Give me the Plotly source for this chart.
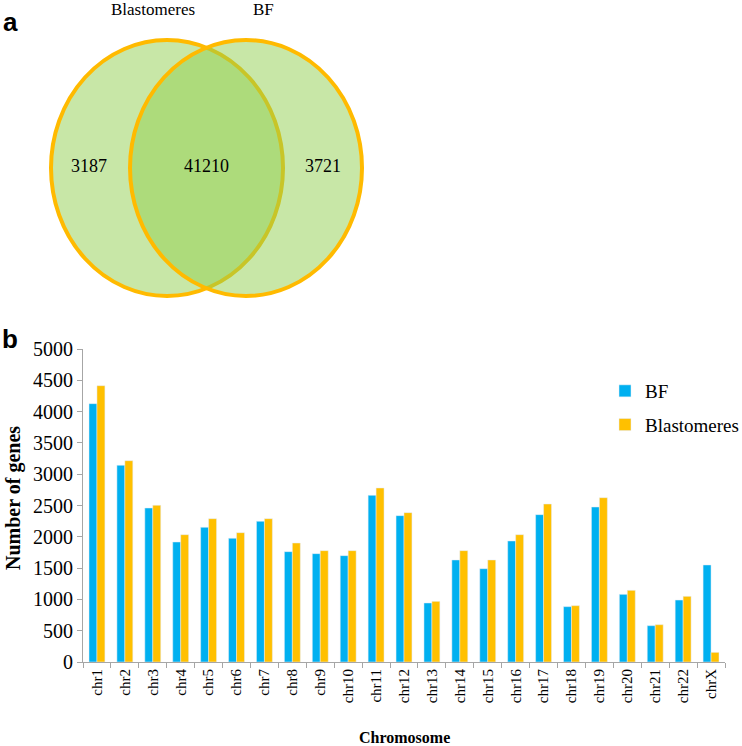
import plotly.graph_objects as go

# ---- data ----
chromosomes = ["chr1", "chr2", "chr3", "chr4", "chr5", "chr6", "chr7", "chr8", "chr9", "chr10",
               "chr11", "chr12", "chr13", "chr14", "chr15", "chr16", "chr17", "chr18", "chr19",
               "chr20", "chr21", "chr22", "chrX"]
bf_genes = [4127, 3142, 2460, 1917, 2151, 1976, 2247, 1763, 1731, 1699,
            2662, 2338, 943, 1630, 1491, 1933, 2354, 884, 2476,
            1081, 580, 990, 1550]
blastomere_genes = [4414, 3216, 2503, 2034, 2290, 2066, 2290, 1901, 1779, 1779,
                    2780, 2386, 969, 1779, 1630, 2034, 2524, 900, 2625,
                    1145, 596, 1049, 154]
venn_sets = ["Blastomeres", "BF"]
venn_counts = [3187, 41210, 3721]   # Blastomeres only, shared, BF only
y_ticks = [0, 500, 1000, 1500, 2000, 2500, 3000, 3500, 4000, 4500, 5000]

W, H = 742, 746
BLUE = "#00B0F0"
GOLD = "#FFC000"
SERIF = "Liberation Serif"

fig = go.Figure()
fig.add_trace(go.Bar(x=chromosomes, y=bf_genes, name="BF", marker_color=BLUE,
                     legendgroup="a", xaxis="x", yaxis="y"))
fig.add_trace(go.Bar(x=chromosomes, y=blastomere_genes, name="Blastomeres", marker_color=GOLD,
                     legendgroup="b", xaxis="x", yaxis="y"))

# ---- Venn (panel a), drawn on a pixel-scaled overlay axis ----
fill = "rgba(146,208,80,0.5)"
ell = [dict(x0=51, x1=283), dict(x0=130, x1=362)]
shapes = []
for e in ell:
    shapes.append(dict(type="circle", xref="x2", yref="y2", x0=e["x0"], x1=e["x1"], y0=40, y1=296,
                       fillcolor=fill, line=dict(color="#FFBA00", width=4), layer="above"))

annotations = []
annotations.append(dict(x=153, y=9, xref="x2", yref="y2", text=venn_sets[0], showarrow=False,
                        font=dict(family=SERIF, size=17, color="black")))
annotations.append(dict(x=263, y=9, xref="x2", yref="y2", text=venn_sets[1], showarrow=False,
                        font=dict(family=SERIF, size=17, color="black")))
for xp, c in zip([89, 206, 323], venn_counts):
    annotations.append(dict(x=xp, y=166, xref="x2", yref="y2", text=str(c), showarrow=False,
                            font=dict(family=SERIF, size=18, color="black")))
annotations.append(dict(x=10, y=22, xref="x2", yref="y2", text="<b>a</b>", showarrow=False,
                        font=dict(family="Liberation Sans", size=26, color="black")))
annotations.append(dict(x=10, y=339, xref="x2", yref="y2", text="<b>b</b>", showarrow=False,
                        font=dict(family="Liberation Sans", size=26, color="black")))
annotations.append(dict(x=13, y=498, xref="x2", yref="y2", text="<b>Number of genes</b>", textangle=-90,
                        showarrow=False, font=dict(family=SERIF, size=20, color="black")))
annotations.append(dict(x=404, y=737, xref="x2", yref="y2", text="<b>Chromosome</b>",
                        showarrow=False, font=dict(family=SERIF, size=16, color="black")))

fig.update_layout(
    width=W, height=H,
    font=dict(family=SERIF, color="black"),
    margin=dict(l=0, r=0, t=0, b=0, pad=0, autoexpand=False),
    paper_bgcolor="white", plot_bgcolor="rgba(0,0,0,0)",
    barmode="group", bargap=0.43, bargroupgap=0,
    xaxis=dict(domain=[83 / W, 725 / W], anchor="y", showline=True, linecolor="#A6A6A6", linewidth=1,
               ticks="outside", tickson="boundaries", ticklen=5, tickcolor="#A6A6A6",
               tickangle=-90, tickfont=dict(family=SERIF, size=15, color="black"),
               showgrid=False, zeroline=False, fixedrange=True, automargin=False),
    yaxis=dict(domain=[(H - 662) / H, (H - 349) / H], anchor="x", range=[0, 5000],
               tickvals=y_ticks, showline=True, linecolor="#A6A6A6", linewidth=1,
               ticks="outside", ticklen=5, tickcolor="#A6A6A6",
               tickfont=dict(family=SERIF, size=20, color="black"),
               showgrid=False, zeroline=False, fixedrange=True, automargin=False),
    xaxis2=dict(domain=[0, 1], range=[0, W], anchor="y2", visible=False, fixedrange=True),
    yaxis2=dict(domain=[0, 1], range=[H, 0], anchor="x2", visible=False, fixedrange=True),
    shapes=shapes,
    annotations=annotations,
    showlegend=True,
    legend=dict(x=605 / W, y=1 - 372 / H, xanchor="left", yanchor="top",
                font=dict(family=SERIF, size=19, color="black"),
                bgcolor="rgba(0,0,0,0)", tracegroupgap=6, itemwidth=30),
)

fig.write_html("out.html", config={"displayModeBar": False},
               post_script="document.body.style.margin='0';document.body.style.overflow='hidden';")
